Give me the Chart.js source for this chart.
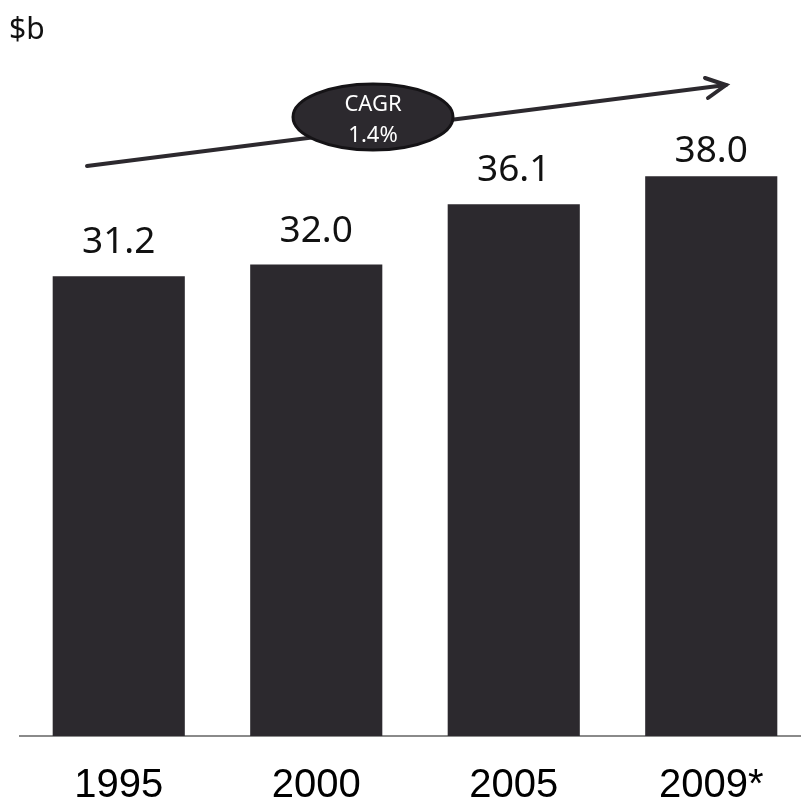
<!DOCTYPE html>
<html>
<head>
<meta charset="utf-8">
<script src="https://cdn.jsdelivr.net/npm/chart.js@4.4.1/dist/chart.umd.min.js"></script>
<style>
  html, body { margin: 0; padding: 0; background: #fff; overflow: hidden; }
  #wrap { width: 810px; height: 806px; }
</style>
</head>
<body>
<div id="wrap"><canvas id="c" width="810" height="806"></canvas></div>
<script>
const years = ['1995', '2000', '2005', '2009*'];
const revenue = [31.2, 32.0, 36.1, 38.0];
const cagrLines = ['CAGR', '1.4%'];
const unitLabel = '$b';

const INK = '#2c292e';

// value labels, unit caption, growth arrow and CAGR bubble
const overlay = {
  id: 'overlay',
  afterDatasetsDraw(chart) {
    const { ctx, chartArea: a } = chart;
    const bars = chart.getDatasetMeta(0).data;
    ctx.save();

    ctx.fillStyle = '#111';
    ctx.font = '37px "Noto Sans"';
    ctx.textAlign = 'center';
    ctx.textBaseline = 'alphabetic';
    bars.forEach((b, i) => {
      const lift = i === bars.length - 1 ? 14 : 23;
      ctx.fillText(revenue[i].toFixed(1), b.x, b.y - lift);
    });

    ctx.textAlign = 'left';
    ctx.font = '30px "Noto Sans"';
    ctx.fillText(unitLabel, 9, 39);

    // arrow
    const x0 = a.left + 67, y0 = 166, x1 = a.left + 706, y1 = 85;
    ctx.strokeStyle = INK;
    ctx.lineWidth = 4;
    ctx.lineCap = 'round';
    ctx.beginPath();
    ctx.moveTo(x0, y0); ctx.lineTo(x1, y1);
    ctx.stroke();
    ctx.beginPath();
    ctx.moveTo(x1 - 21, y1 - 7); ctx.lineTo(x1, y1); ctx.lineTo(x1 - 18, y1 + 13);
    ctx.stroke();

    // bubble
    const cx = a.left + 353, cy = 117;
    ctx.beginPath();
    ctx.ellipse(cx, cy, 80, 33, 0, 0, Math.PI * 2);
    ctx.fillStyle = INK;
    ctx.fill();
    ctx.lineWidth = 3;
    ctx.strokeStyle = '#151316';
    ctx.stroke();
    ctx.fillStyle = '#fff';
    ctx.textAlign = 'center';
    ctx.font = '22px "Noto Sans"';
    ctx.fillText(cagrLines[0], cx, cy - 6);
    ctx.fillText(cagrLines[1], cx, cy + 25);
    ctx.restore();
  }
};

new Chart(document.getElementById('c'), {
  type: 'bar',
  data: {
    labels: years,
    datasets: [{
      data: revenue,
      backgroundColor: INK,
      borderWidth: 0,
      barPercentage: 0.669,
      categoryPercentage: 1
    }]
  },
  options: {
    responsive: false,
    animation: false,
    layout: { padding: { left: 20, right: 0, top: 73, bottom: -22 } },
    plugins: { legend: { display: false }, tooltip: { enabled: false } },
    scales: {
      x: {
        grid: { display: false },
        border: { display: true, color: '#8a8a8a', width: 2 },
        ticks: {
          color: '#000',
          padding: 18,
          font: { family: '"Liberation Sans"', size: 40 }
        }
      },
      y: {
        display: false,
        min: 0,
        max: 45
      }
    }
  },
  plugins: [overlay]
});
</script>
</body>
</html>
